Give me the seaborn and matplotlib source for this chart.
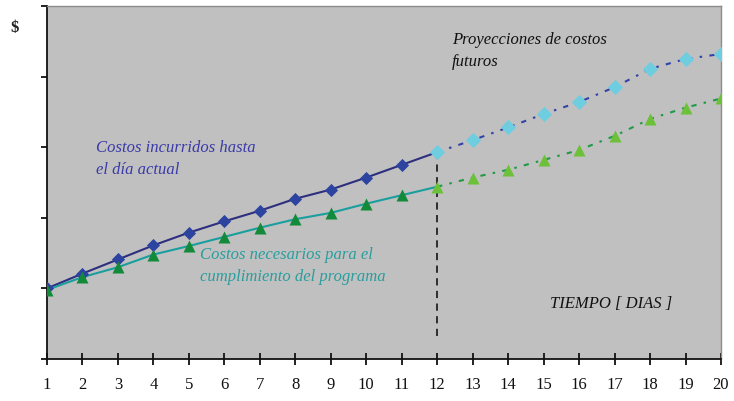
import matplotlib
matplotlib.use("Agg")
import matplotlib.pyplot as plt
import seaborn as sns
import pandas as pd

days_hist = [1, 2, 3, 4, 5, 6, 7, 8, 9, 10, 11, 12]
incurridos = [1.00, 1.21, 1.41, 1.61, 1.79, 1.95, 2.10, 2.27, 2.40, 2.57, 2.75, 2.93]
necesarios = [0.98, 1.16, 1.30, 1.48, 1.60, 1.73, 1.86, 1.98, 2.07, 2.20, 2.32, 2.44]

days_proj = [12, 13, 14, 15, 16, 17, 18, 19, 20]
proy_incurridos = [2.93, 3.10, 3.28, 3.47, 3.64, 3.85, 4.11, 4.25, 4.32]
proy_necesarios = [2.44, 2.57, 2.68, 2.82, 2.96, 3.16, 3.40, 3.56, 3.69]

x_ticks = list(range(1, 21))
y_ticks = [0, 1, 2, 3, 4, 5]

sns.set_style("ticks", {"axes.facecolor": "#c0c0c0"})
plt.rcParams['font.family'] = ['Liberation Serif', 'DejaVu Serif']

fig = plt.figure(figsize=(7.34, 4.02), dpi=100)
ax = fig.add_axes([47/734, 1 - 360/402, (721 - 47)/734, (360 - 7)/402])
ax.set_facecolor("#c0c0c0")

hist = pd.DataFrame({"dia": days_hist, "inc": incurridos, "nec": necesarios})
proj = pd.DataFrame({"dia": days_proj, "inc": proy_incurridos, "nec": proy_necesarios})

dash = (0, (2.5, 3.5, 1.2, 3.5))
# projections (drawn first so history overlays)
sns.lineplot(data=proj, x="dia", y="inc", ax=ax, color="#3242a8", lw=1.5,
             linestyle=dash, zorder=2)
sns.lineplot(data=proj, x="dia", y="nec", ax=ax, color="#1f9a45", lw=1.5,
             linestyle=dash, zorder=2)
ax.scatter(proj["dia"], proj["inc"], marker="D", s=60, color="#6fcde0", zorder=4, linewidths=0)
ax.scatter(proj["dia"], proj["nec"], marker="^", s=75, color="#6cc03a", zorder=4, linewidths=0)

# history
sns.lineplot(data=hist, x="dia", y="inc", ax=ax, color="#2d2f7e", lw=1.5, zorder=3)
sns.lineplot(data=hist, x="dia", y="nec", ax=ax, color="#1a9e9e", lw=1.5, zorder=3)
ax.scatter(hist["dia"][:-1], hist["inc"][:-1], marker="D", s=45, color="#2c44a0", zorder=5, linewidths=0)
ax.scatter(hist["dia"][:-1], hist["nec"][:-1], marker="^", s=75, color="#138a3a", zorder=5, linewidths=0)

# current day line
ax.plot([12, 12], [0.33, 2.93], color="#222222", lw=1.3, linestyle=(0, (4, 3)), zorder=3)

ax.set_xlim(1, 20)
ax.set_ylim(0, 5)
ax.set_xticks(x_ticks)
ax.set_xticklabels([str(v) for v in x_ticks], fontsize=12)
ax.set_yticks(y_ticks)
ax.set_yticklabels([])
ax.set_xlabel("")
ax.set_ylabel("")
ax.tick_params(axis="x", direction="inout", length=9, width=1.3, pad=8, colors="#111111")
ax.tick_params(axis="y", direction="out", length=4, width=1.3, colors="#111111")
for s in ["left", "bottom"]:
    ax.spines[s].set_color("#111111")
    ax.spines[s].set_linewidth(1.3)
for s in ["top", "right"]:
    ax.spines[s].set_visible(True)
    ax.spines[s].set_color("#8c8c8c")
    ax.spines[s].set_linewidth(1.0)

fig.text(15/734, 1 - 28/402, "$", fontsize=12, fontweight="bold", ha="center", va="center", color="#222222")
fig.text(96/734, 1 - 159/402, "Costos incurridos hasta\nel día actual", fontsize=12, style="italic",
         color="#3a3aa8", ha="left", va="center", linespacing=1.55)
fig.text(200/734, 1 - 266/402, "Costos necesarios para el\ncumplimiento del programa", fontsize=12,
         style="italic", color="#2a9d9d", ha="left", va="center", linespacing=1.55)
fig.text(452/734, 1 - 51/402, "Proyecciones de costos\nfuturos", fontsize=12, style="italic",
         color="#111111", ha="left", va="center", linespacing=1.55)
fig.text(550/734, 1 - 304/402, "TIEMPO [ DIAS ]", fontsize=12, style="italic",
         color="#111111", ha="left", va="center")

fig.savefig("out.png", dpi=100, facecolor="white")
